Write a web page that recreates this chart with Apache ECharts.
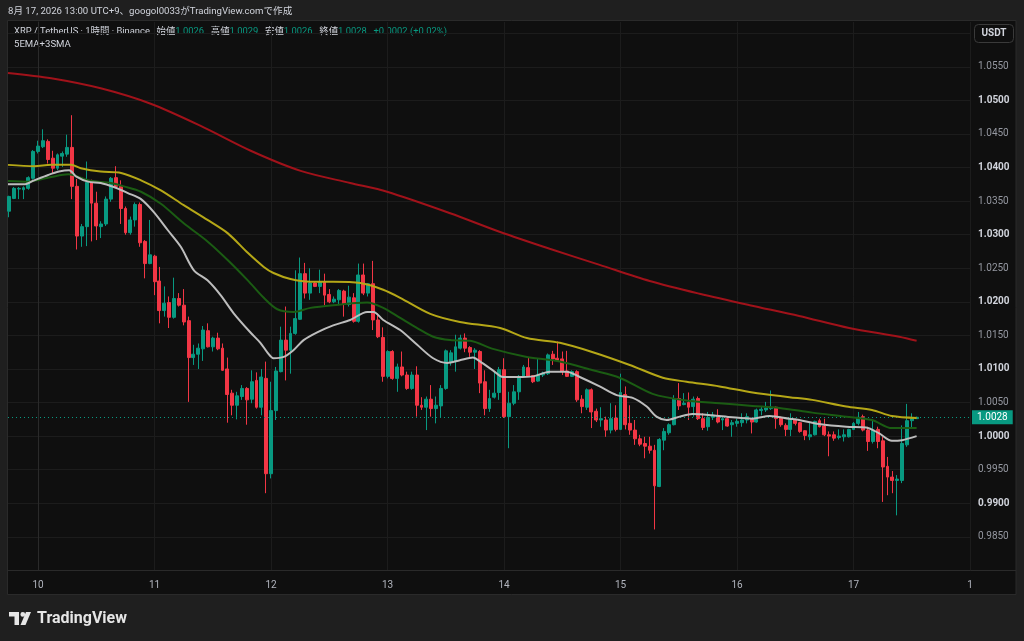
<!DOCTYPE html>
<html>
<head>
<meta charset="utf-8">
<script src="https://cdn.jsdelivr.net/npm/echarts@6/dist/echarts.min.js"></script>
<style>
  html, body { margin: 0; padding: 0; background: #1f1f1f; }
  #main { width: 1024px; height: 641px; }
</style>
</head>
<body>
<div id="main"></div>
<script>
// XRP/USDT 1h candles, rows are [open, high, low, close]
// hour index is counted from Aug 10 00:00 (first candle = Aug 9 18:00)
const firstHour = -6;

const candlesAug09 = [
  [1.0335, 1.0358, 1.0326, 1.0357], [1.0354, 1.0371, 1.0353, 1.0369], [1.0368, 1.0371, 1.0353, 1.0369],
  [1.0367, 1.0372, 1.0353, 1.0370], [1.0369, 1.0387, 1.0367, 1.0385], [1.0384, 1.0426, 1.0382, 1.0424]
];
const candlesAug10 = [
  [1.0424, 1.0440, 1.0421, 1.0432], [1.0431, 1.0457, 1.0429, 1.0440], [1.0439, 1.0442, 1.0406, 1.0412],
  [1.0414, 1.0425, 1.0391, 1.0399], [1.0399, 1.0421, 1.0396, 1.0419], [1.0417, 1.0424, 1.0401, 1.0421],
  [1.0420, 1.0449, 1.0416, 1.0430], [1.0430, 1.0478, 1.0353, 1.0372], [1.0372, 1.0383, 1.0278, 1.0298],
  [1.0298, 1.0316, 1.0282, 1.0312], [1.0312, 1.0409, 1.0283, 1.0378], [1.0379, 1.0382, 1.0290, 1.0347],
  [1.0347, 1.0364, 1.0292, 1.0313], [1.0312, 1.0320, 1.0295, 1.0316], [1.0316, 1.0357, 1.0313, 1.0353],
  [1.0353, 1.0386, 1.0349, 1.0384], [1.0385, 1.0402, 1.0371, 1.0372], [1.0372, 1.0381, 1.0316, 1.0339],
  [1.0339, 1.0342, 1.0300, 1.0303], [1.0303, 1.0327, 1.0300, 1.0322], [1.0322, 1.0348, 1.0312, 1.0345],
  [1.0345, 1.0348, 1.0282, 1.0288], [1.0290, 1.0292, 1.0235, 1.0257], [1.0257, 1.0322, 1.0256, 1.0270]
];
const candlesAug11 = [
  [1.0268, 1.0270, 1.0210, 1.0230], [1.0231, 1.0252, 1.0168, 1.0187], [1.0187, 1.0223, 1.0178, 1.0198],
  [1.0199, 1.0208, 1.0161, 1.0177], [1.0177, 1.0236, 1.0175, 1.0205], [1.0205, 1.0213, 1.0193, 1.0195],
  [1.0195, 1.0219, 1.0165, 1.0170], [1.0172, 1.0178, 1.0051, 1.0117], [1.0117, 1.0136, 1.0106, 1.0122],
  [1.0122, 1.0138, 1.0100, 1.0131], [1.0130, 1.0164, 1.0112, 1.0158], [1.0157, 1.0168, 1.0132, 1.0133],
  [1.0133, 1.0148, 1.0126, 1.0146], [1.0146, 1.0154, 1.0128, 1.0130], [1.0131, 1.0138, 1.0097, 1.0098],
  [1.0100, 1.0117, 1.0020, 1.0062], [1.0064, 1.0069, 1.0031, 1.0046], [1.0046, 1.0066, 1.0025, 1.0060],
  [1.0059, 1.0076, 1.0054, 1.0071], [1.0071, 1.0073, 1.0017, 1.0054], [1.0055, 1.0098, 1.0049, 1.0081],
  [1.0083, 1.0095, 1.0041, 1.0043], [1.0043, 1.0100, 1.0031, 1.0088], [1.0086, 1.0111, 0.9915, 0.9944]
];
const candlesAug12 = [
  [0.9944, 1.0081, 0.9937, 1.0038], [1.0038, 1.0103, 1.0024, 1.0097], [1.0096, 1.0163, 1.0095, 1.0143],
  [1.0143, 1.0193, 1.0083, 1.0128], [1.0128, 1.0163, 1.0093, 1.0153], [1.0153, 1.0247, 1.0151, 1.0175],
  [1.0174, 1.0266, 1.0173, 1.0242], [1.0242, 1.0258, 1.0205, 1.0213], [1.0213, 1.0250, 1.0203, 1.0228],
  [1.0228, 1.0230, 1.0222, 1.0223], [1.0223, 1.0248, 1.0213, 1.0230], [1.0230, 1.0242, 1.0195, 1.0210],
  [1.0211, 1.0219, 1.0198, 1.0200], [1.0200, 1.0208, 1.0198, 1.0204], [1.0203, 1.0219, 1.0195, 1.0217],
  [1.0216, 1.0218, 1.0178, 1.0196], [1.0196, 1.0224, 1.0193, 1.0207], [1.0206, 1.0213, 1.0169, 1.0171],
  [1.0171, 1.0257, 1.0169, 1.0240], [1.0240, 1.0257, 1.0210, 1.0213], [1.0213, 1.0228, 1.0208, 1.0227],
  [1.0227, 1.0261, 1.0158, 1.0173], [1.0173, 1.0183, 1.0146, 1.0148], [1.0147, 1.0162, 1.0081, 1.0089]
];
const candlesAug13 = [
  [1.0089, 1.0128, 1.0086, 1.0126], [1.0126, 1.0128, 1.0084, 1.0086], [1.0086, 1.0108, 1.0066, 1.0103],
  [1.0103, 1.0126, 1.0089, 1.0091], [1.0091, 1.0096, 1.0069, 1.0071], [1.0071, 1.0096, 1.0069, 1.0091],
  [1.0091, 1.0104, 1.0029, 1.0046], [1.0046, 1.0058, 1.0039, 1.0043], [1.0043, 1.0059, 1.0009, 1.0055],
  [1.0055, 1.0076, 1.0029, 1.0041], [1.0041, 1.0059, 1.0019, 1.0046], [1.0045, 1.0076, 1.0027, 1.0071],
  [1.0071, 1.0129, 1.0069, 1.0127], [1.0110, 1.0128, 1.0105, 1.0124], [1.0111, 1.0151, 1.0096, 1.0133],
  [1.0131, 1.0151, 1.0129, 1.0146], [1.0146, 1.0153, 1.0125, 1.0131], [1.0132, 1.0134, 1.0118, 1.0125],
  [1.0125, 1.0131, 1.0100, 1.0128], [1.0126, 1.0128, 1.0064, 1.0079], [1.0081, 1.0098, 1.0031, 1.0041],
  [1.0041, 1.0069, 1.0036, 1.0056], [1.0058, 1.0096, 1.0056, 1.0064], [1.0065, 1.0103, 1.0054, 1.0099]
];
const candlesAug14 = [
  [1.0099, 1.0116, 1.0027, 1.0029], [1.0029, 1.0066, 0.9982, 1.0049], [1.0049, 1.0076, 1.0046, 1.0066],
  [1.0066, 1.0091, 1.0054, 1.0089], [1.0089, 1.0106, 1.0088, 1.0103], [1.0102, 1.0117, 1.0088, 1.0089],
  [1.0090, 1.0091, 1.0079, 1.0081], [1.0082, 1.0116, 1.0081, 1.0091], [1.0091, 1.0096, 1.0088, 1.0094],
  [1.0093, 1.0123, 1.0091, 1.0121], [1.0122, 1.0127, 1.0106, 1.0115], [1.0116, 1.0141, 1.0111, 1.0113],
  [1.0115, 1.0126, 1.0091, 1.0096], [1.0097, 1.0127, 1.0088, 1.0089], [1.0089, 1.0098, 1.0088, 1.0096],
  [1.0096, 1.0098, 1.0051, 1.0054], [1.0055, 1.0061, 1.0034, 1.0044], [1.0043, 1.0071, 1.0039, 1.0069],
  [1.0069, 1.0071, 1.0012, 1.0036], [1.0037, 1.0041, 1.0021, 1.0024], [1.0024, 1.0043, 1.0014, 1.0026],
  [1.0024, 1.0029, 0.9999, 1.0009], [1.0009, 1.0049, 1.0004, 1.0026], [1.0027, 1.0046, 1.0007, 1.0010]
];
const candlesAug15 = [
  [1.0010, 1.0093, 1.0009, 1.0065], [1.0062, 1.0074, 1.0010, 1.0017], [1.0019, 1.0046, 1.0002, 1.0009],
  [1.0009, 1.0024, 0.9987, 0.9996], [0.9996, 1.0002, 0.9985, 0.9988], [0.9989, 0.9999, 0.9967, 0.9985],
  [0.9985, 0.9999, 0.9974, 0.9979], [0.9979, 0.9987, 0.9861, 0.9926], [0.9925, 0.9997, 0.9924, 0.9995],
  [0.9994, 1.0012, 0.9979, 1.0007], [1.0005, 1.0019, 1.0002, 1.0017], [1.0017, 1.0061, 1.0016, 1.0056],
  [1.0056, 1.0079, 1.0039, 1.0045], [1.0047, 1.0064, 1.0046, 1.0049], [1.0050, 1.0065, 1.0024, 1.0043],
  [1.0044, 1.0059, 1.0029, 1.0055], [1.0056, 1.0059, 1.0024, 1.0026], [1.0026, 1.0034, 1.0009, 1.0013],
  [1.0014, 1.0036, 1.0008, 1.0028], [1.0028, 1.0036, 1.0024, 1.0031], [1.0029, 1.0040, 1.0019, 1.0021],
  [1.0024, 1.0029, 1.0009, 1.0026], [1.0026, 1.0029, 1.0014, 1.0015], [1.0017, 1.0024, 0.9999, 1.0020]
];
const candlesAug16 = [
  [1.0019, 1.0026, 1.0014, 1.0022], [1.0020, 1.0034, 1.0014, 1.0024], [1.0024, 1.0034, 1.0019, 1.0029],
  [1.0025, 1.0026, 1.0004, 1.0021], [1.0021, 1.0041, 1.0020, 1.0039], [1.0038, 1.0044, 1.0031, 1.0040],
  [1.0039, 1.0051, 1.0036, 1.0042], [1.0041, 1.0068, 1.0039, 1.0043], [1.0043, 1.0044, 1.0011, 1.0026],
  [1.0027, 1.0029, 1.0014, 1.0017], [1.0016, 1.0019, 1.0000, 1.0010], [1.0010, 1.0034, 1.0000, 1.0025],
  [1.0024, 1.0026, 1.0016, 1.0019], [1.0020, 1.0021, 1.0005, 1.0007], [1.0008, 1.0009, 0.9994, 1.0001],
  [0.9999, 1.0021, 0.9994, 1.0002], [1.0002, 1.0023, 1.0001, 1.0022], [1.0023, 1.0026, 1.0013, 1.0014],
  [1.0015, 1.0026, 1.0000, 1.0002], [1.0002, 1.0007, 0.9970, 1.0000], [1.0002, 1.0007, 0.9993, 0.9997],
  [0.9998, 1.0010, 0.9995, 1.0000], [0.9999, 1.0010, 0.9992, 1.0002], [0.9999, 1.0011, 0.9998, 1.0010]
];
const candlesAug17 = [
  [1.0010, 1.0021, 1.0009, 1.0019], [1.0019, 1.0036, 1.0016, 1.0028], [1.0029, 1.0032, 1.0007, 1.0009],
  [1.0009, 1.0014, 0.9978, 0.9992], [0.9992, 1.0024, 0.9989, 1.0009], [1.0010, 1.0014, 0.9982, 0.9992],
  [0.9993, 0.9999, 0.9902, 0.9954], [0.9955, 0.9969, 0.9912, 0.9939], [0.9939, 0.9948, 0.9915, 0.9934],
  [0.9934, 0.9942, 0.9882, 0.9936], [0.9934, 1.0016, 0.9930, 0.9989], [0.9987, 1.0048, 0.9984, 1.0023],
  [1.0023, 1.0034, 1.0011, 1.0026], [1.0026, 1.0029, 1.0026, 1.0028]
];

// moving averages, [hour, price]
const lineWhite = [
  [-6.2, 1.0375], [-2.9, 1.0375], [-0.8, 1.0381], [2.1, 1.0389], [4.3, 1.0394], [6.4, 1.0396], [7.8, 1.0387],
  [10.3, 1.0379], [12.9, 1.0377], [15.6, 1.0371], [18.5, 1.0362], [21.2, 1.0353], [23.8, 1.0334], [26.7, 1.0307],
  [29.4, 1.0282], [32.1, 1.0247], [34.9, 1.0232], [37.6, 1.0210], [40.3, 1.0183], [43.8, 1.0154], [45.8, 1.0139],
  [47.3, 1.0124], [48.5, 1.0116], [50.6, 1.0118], [52.6, 1.0128], [54.7, 1.0143], [57.6, 1.0155], [60.8, 1.0165],
  [64.3, 1.0173], [67.8, 1.0185], [69.1, 1.0185], [71.1, 1.0173], [74.6, 1.0158], [78.1, 1.0136], [81.4, 1.0116],
  [84.3, 1.0109], [86.9, 1.0113], [89.6, 1.0117], [91.1, 1.0111], [93.7, 1.0098], [95.8, 1.0088], [98.7, 1.0088],
  [102, 1.0089], [105.4, 1.0096], [108.9, 1.0096], [111.6, 1.0088], [115.7, 1.0074], [119.2, 1.0061], [122.5, 1.0057],
  [125.4, 1.0044], [127.4, 1.0029], [129.5, 1.0024], [132.2, 1.0029], [134.8, 1.0033], [138.9, 1.0031], [143, 1.0028],
  [147.2, 1.0026], [150.7, 1.0030], [154.8, 1.0026], [156.8, 1.0024], [160.9, 1.0018], [166.5, 1.0014], [170.6, 1.0013],
  [173.3, 1.0004], [175.9, 0.9993], [178, 0.9994], [181, 1.0000]
];
const lineGreen = [
  [-6.2, 1.0380], [-2.1, 1.0379], [2.7, 1.0386], [6.2, 1.0390], [7.2, 1.0389], [10.3, 1.0381], [15, 1.0377],
  [17.7, 1.0372], [21.2, 1.0364], [25.3, 1.0346], [30, 1.0317], [34.9, 1.0290], [39.1, 1.0262], [43.2, 1.0232],
  [46.5, 1.0206], [49.3, 1.0189], [52.6, 1.0185], [56.1, 1.0191], [60.8, 1.0195], [67.8, 1.0199], [71.1, 1.0191],
  [74.6, 1.0176], [78.1, 1.0161], [81.4, 1.0148], [84.9, 1.0143], [89, 1.0142], [93.7, 1.0130], [100.7, 1.0118],
  [107.5, 1.0111], [114.3, 1.0098], [119.8, 1.0087], [126.6, 1.0063], [133.6, 1.0053], [140.4, 1.0049],
  [147.2, 1.0045], [152.7, 1.0042], [159.5, 1.0035], [166.5, 1.0029], [171.8, 1.0024], [175.9, 1.0012], [181, 1.0012]
];
const lineYellow = [
  [-6.2, 1.0404], [-0.8, 1.0402], [2.7, 1.0404], [6.8, 1.0404], [8.8, 1.0399], [12.9, 1.0394], [17.1, 1.0392],
  [21.2, 1.0381], [25.3, 1.0366], [30, 1.0344], [34.9, 1.0322], [39.1, 1.0302], [43.2, 1.0273], [46.5, 1.0252],
  [48.5, 1.0243], [52, 1.0234], [56.1, 1.0230], [60.8, 1.0230], [66.4, 1.0228], [71.1, 1.0218], [74.6, 1.0206],
  [80.8, 1.0182], [86.9, 1.0170], [95.2, 1.0161], [100.7, 1.0146], [107.5, 1.0139], [114.3, 1.0125], [121.9, 1.0106],
  [128.7, 1.0087], [133.6, 1.0081], [140.4, 1.0074], [147.2, 1.0065], [154.8, 1.0058], [159.5, 1.0054],
  [166.5, 1.0044], [171.8, 1.0039], [175.9, 1.0030], [181, 1.0027]
];
const lineRed = [
  [-6.2, 1.0541], [2.7, 1.0533], [12.9, 1.0518], [23.2, 1.0495], [33.5, 1.0462], [43.8, 1.0425], [54.1, 1.0395],
  [64.3, 1.0377], [71.9, 1.0364], [84.9, 1.0332], [95.2, 1.0304], [105.4, 1.0279], [115.7, 1.0255], [126, 1.0231],
  [136.3, 1.0212], [146.6, 1.0195], [156.8, 1.0179], [167.1, 1.0161], [177.4, 1.0148], [181, 1.0142]
];

// axis ticks
const dayTicks = [0, 24, 48, 72, 96, 120, 144, 168, 192];
const dayLabels = ['10', '11', '12', '13', '14', '15', '16', '17', '1'];
const priceTicks = [0.985, 0.99, 0.995, 1.0, 1.005, 1.01, 1.015, 1.02, 1.025, 1.03, 1.035, 1.04, 1.045, 1.05, 1.055];
const priceGrid = priceTicks.concat([1.06]);

const UP = '#089981';
const DOWN = '#f23645';
const FONT = 'Roboto, "Noto Sans CJK JP", sans-serif';

const allCandles = [].concat(candlesAug09, candlesAug10, candlesAug11, candlesAug12,
  candlesAug13, candlesAug14, candlesAug15, candlesAug16, candlesAug17);
// echarts wants [x, open, close, low, high]
const candleData = allCandles.map((c, i) => [firstHour + i, c[0], c[3], c[2], c[1]]);

const last = allCandles[allCandles.length - 1];
const prevClose = allCandles[allCandles.length - 2][3];
const chg = last[3] - prevClose;
const chgText = (chg >= 0 ? '+' : '') + chg.toFixed(4) + ' (' + (chg >= 0 ? '+' : '') + (chg / prevClose * 100).toFixed(2) + '%)';

const legendText = '{t|XRP / TetherUS · 1時間 · Binance}  ' +
  '{t|始値}{v|' + last[0].toFixed(4) + '}  ' +
  '{t|高値}{v|' + last[1].toFixed(4) + '}  ' +
  '{t|安値}{v|' + last[2].toFixed(4) + '}  ' +
  '{t|終値}{v|' + last[3].toFixed(4) + '}  ' +
  '{v|' + chgText + '}';

function maLine(name, pts, color) {
  return {
    name: name,
    type: 'line',
    data: pts,
    smooth: 0.3,
    showSymbol: false,
    silent: true,
    z: 5,
    lineStyle: { color: color, width: 2 }
  };
}

const chart = echarts.init(document.getElementById('main'));

// last price line sits on the long average series (a plain line series)
const redSeries = maLine('SMA long', lineRed, '#a0121a');
redSeries.markLine = {
  silent: true,
  precision: 4,
  symbol: ['none', 'none'],
  lineStyle: { color: UP, type: [1, 3], width: 1 },
  label: {
    show: true,
    position: 'end',
    distance: 2,
    formatter: last[3].toFixed(4),
    color: '#ffffff',
    backgroundColor: UP,
    padding: [2, 5, 2, 5],
    fontSize: 10,
    fontFamily: FONT
  },
  data: [{ yAxis: last[3] }]
};

const option = {
  backgroundColor: '#1f1f1f',
  animation: false,
  textStyle: { fontFamily: FONT },
  grid: { left: 8, right: 54, top: 22, bottom: 70.6 },
  xAxis: {
    type: 'value',
    min: -6.2,
    max: 192,
    axisLine: { show: true, lineStyle: { color: '#2a2a2a' } },
    axisTick: { show: false, customValues: dayTicks },
    axisLabel: {
      customValues: dayTicks,
      formatter: v => dayLabels[dayTicks.indexOf(Math.round(v))],
      color: '#b2b5be',
      fontSize: 10,
      margin: 10
    },
    splitLine: { show: true, lineStyle: { color: '#1c1c1c' } }
  },
  yAxis: {
    type: 'value',
    position: 'right',
    min: 0.98,
    max: 1.06168,
    axisLine: { show: true, lineStyle: { color: '#2a2a2a' } },
    axisTick: { show: false, customValues: priceGrid },
    axisLabel: {
      customValues: priceTicks,
      margin: 8,
      formatter: v => {
        const s = v.toFixed(4);
        return Math.round(v * 1000) % 10 === 0 ? '{b|' + s + '}' : '{n|' + s + '}';
      },
      rich: {
        b: { color: '#d1d4dc', fontSize: 10, fontWeight: 'bold', fontFamily: FONT },
        n: { color: '#9598a1', fontSize: 10, fontFamily: FONT }
      }
    },
    splitLine: { show: true, lineStyle: { color: '#1c1c1c' } }
  },
  series: [
    {
      name: 'XRP',
      type: 'candlestick',
      data: candleData,
      barWidth: 3.4,
      z: 3,
      itemStyle: {
        color: UP,
        color0: DOWN,
        borderColor: UP,
        borderColor0: DOWN,
        borderWidth: 1
      }
    },
    redSeries,
    maLine('yellow', lineYellow, '#b5a717'),
    maLine('green', lineGreen, '#1b5c13'),
    maLine('white', lineWhite, '#bdbdbd')
  ],
  graphic: [
    {
      type: 'rect', z: -10, silent: true,
      shape: { x: 7.5, y: 20.5, width: 1008.5, height: 574 },
      style: { fill: '#0f0f0f', stroke: '#2a2a2a', lineWidth: 1 }
    },
    {
      type: 'line', silent: true,
      shape: { x1: 970, y1: 570.5, x2: 1016, y2: 570.5 },
      style: { stroke: '#2a2a2a', lineWidth: 1 }
    },
    {
      type: 'text', x: 8, y: 12, silent: true,
      style: {
        text: '8月 17, 2026 13:00 UTC+9、googol0033がTradingView.comで作成',
        fill: '#d1d4dc', font: '9.6px ' + FONT, verticalAlign: 'middle'
      }
    },
    {
      type: 'text', x: 14, y: 32, silent: true,
      style: {
        text: legendText,
        verticalAlign: 'middle',
        rich: {
          t: { fill: '#d1d4dc', font: '9.4px ' + FONT },
          v: { fill: UP, font: '9.4px ' + FONT }
        }
      }
    },
    {
      type: 'text', x: 14, y: 45, silent: true,
      style: { text: '5EMA+3SMA', fill: '#d1d4dc', font: '9.6px ' + FONT, verticalAlign: 'middle' }
    },
    {
      type: 'rect', silent: true,
      shape: { x: 974.5, y: 24.5, width: 39, height: 18, r: 4 },
      style: { fill: '#0f0f0f', stroke: '#3a3a3a', lineWidth: 1 }
    },
    {
      type: 'text', x: 994, y: 33.5, silent: true,
      style: { text: 'USDT', fill: '#d1d4dc', font: 'bold 10px ' + FONT, align: 'center', verticalAlign: 'middle' }
    },
    // TradingView logo
    {
      type: 'polygon', silent: true,
      shape: { points: [[9, 612], [19, 612], [19, 625], [14.5, 625], [14.5, 616.5], [9, 616.5]] },
      style: { fill: '#e6e6e6' }
    },
    {
      type: 'circle', silent: true,
      shape: { cx: 22.8, cy: 614.4, r: 2.4 },
      style: { fill: '#e6e6e6' }
    },
    {
      type: 'polygon', silent: true,
      shape: { points: [[26, 612], [31, 612], [25.5, 625], [20.5, 625]] },
      style: { fill: '#e6e6e6' }
    },
    {
      type: 'text', x: 37, y: 619, silent: true,
      style: { text: 'TradingView', fill: '#e6e6e6', font: 'bold 16px ' + FONT, verticalAlign: 'middle' }
    }
  ]
};

chart.setOption(option);
</script>
</body>
</html>
